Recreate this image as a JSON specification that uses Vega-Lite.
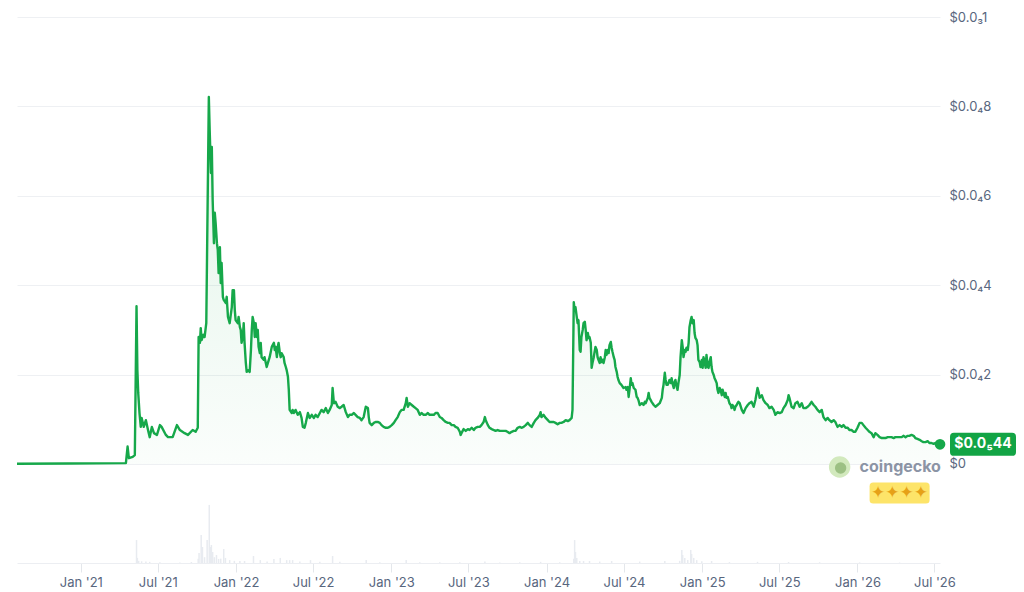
{
"$schema":"https://vega.github.io/schema/vega-lite/v6.json",
"width":923,"height":546,
"autosize":{"type":"none"},
"padding":{"left":17,"top":17,"right":84,"bottom":29},
"background":"white",
"config":{"view":{"stroke":null},"font":"Inter"},
"datasets":{
"price":[
{"date":"2020-08-04","price":0.05e-6},{"date":"2020-12-01","price":0.1e-6},{"date":"2021-04-17","price":0.2e-6},{"date":"2021-04-21","price":3.9e-6},{"date":"2021-04-24","price":1.3e-6},{"date":"2021-05-03","price":1.6e-6},{"date":"2021-05-08","price":2.0e-6},{"date":"2021-05-12","price":35.3e-6},{"date":"2021-05-14","price":21.0e-6},{"date":"2021-05-16","price":15.9e-6},{"date":"2021-05-19","price":11.4e-6},{"date":"2021-05-22","price":8.3e-6},{"date":"2021-05-24","price":10.3e-6},{"date":"2021-05-29","price":8.3e-6},{"date":"2021-06-03","price":9.8e-6},{"date":"2021-06-08","price":7.6e-6},{"date":"2021-06-12","price":6.0e-6},{"date":"2021-06-17","price":8.3e-6},{"date":"2021-06-22","price":6.9e-6},{"date":"2021-06-29","price":6.5e-6},{"date":"2021-07-06","price":8.7e-6},{"date":"2021-07-10","price":8.3e-6},{"date":"2021-07-20","price":6.5e-6},{"date":"2021-07-25","price":6.0e-6},{"date":"2021-08-05","price":6.0e-6},{"date":"2021-08-15","price":8.7e-6},{"date":"2021-08-22","price":7.6e-6},{"date":"2021-09-02","price":6.9e-6},{"date":"2021-09-10","price":6.5e-6},{"date":"2021-09-21","price":7.6e-6},{"date":"2021-09-28","price":7.2e-6},{"date":"2021-10-03","price":8.1e-6},{"date":"2021-10-05","price":28.4e-6},{"date":"2021-10-08","price":27.1e-6},{"date":"2021-10-10","price":30.4e-6},{"date":"2021-10-12","price":27.7e-6},{"date":"2021-10-16","price":28.9e-6},{"date":"2021-10-19","price":28.4e-6},{"date":"2021-10-23","price":31.5e-6},{"date":"2021-10-29","price":82.1e-6},{"date":"2021-10-31","price":74.7e-6},{"date":"2021-11-03","price":65.1e-6},{"date":"2021-11-05","price":70.9e-6},{"date":"2021-11-07","price":59.1e-6},{"date":"2021-11-10","price":49.4e-6},{"date":"2021-11-12","price":56.2e-6},{"date":"2021-11-14","price":53.9e-6},{"date":"2021-11-17","price":49.4e-6},{"date":"2021-11-19","price":47.9e-6},{"date":"2021-11-21","price":42.7e-6},{"date":"2021-11-24","price":48.5e-6},{"date":"2021-11-26","price":40.5e-6},{"date":"2021-11-28","price":45.0e-6},{"date":"2021-12-01","price":37.4e-6},{"date":"2021-12-03","price":36.7e-6},{"date":"2021-12-08","price":36.0e-6},{"date":"2021-12-10","price":37.4e-6},{"date":"2021-12-13","price":32.9e-6},{"date":"2021-12-17","price":31.5e-6},{"date":"2021-12-22","price":35.1e-6},{"date":"2021-12-24","price":38.9e-6},{"date":"2021-12-27","price":38.9e-6},{"date":"2021-12-29","price":34.5e-6},{"date":"2021-12-31","price":32.2e-6},
{"date":"2022-01-05","price":31.5e-6},{"date":"2022-01-07","price":32.9e-6},{"date":"2022-01-10","price":30.6e-6},{"date":"2022-01-12","price":30.0e-6},{"date":"2022-01-14","price":27.1e-6},{"date":"2022-01-17","price":28.4e-6},{"date":"2022-01-19","price":31.5e-6},{"date":"2022-01-21","price":27.1e-6},{"date":"2022-01-24","price":22.6e-6},{"date":"2022-01-26","price":20.6e-6},{"date":"2022-01-31","price":21.0e-6},{"date":"2022-02-02","price":20.6e-6},{"date":"2022-02-05","price":25.5e-6},{"date":"2022-02-07","price":30.0e-6},{"date":"2022-02-09","price":32.9e-6},{"date":"2022-02-12","price":31.5e-6},{"date":"2022-02-14","price":28.4e-6},{"date":"2022-02-16","price":31.5e-6},{"date":"2022-02-19","price":28.4e-6},{"date":"2022-02-21","price":30.0e-6},{"date":"2022-02-23","price":26.2e-6},{"date":"2022-02-26","price":24.8e-6},{"date":"2022-02-28","price":27.1e-6},{"date":"2022-03-02","price":23.9e-6},{"date":"2022-03-07","price":23.3e-6},{"date":"2022-03-09","price":23.9e-6},{"date":"2022-03-14","price":21.7e-6},{"date":"2022-03-19","price":23.3e-6},{"date":"2022-03-21","price":23.9e-6},{"date":"2022-03-26","price":26.2e-6},{"date":"2022-03-31","price":27.1e-6},{"date":"2022-04-02","price":25.5e-6},{"date":"2022-04-04","price":26.2e-6},{"date":"2022-04-07","price":23.9e-6},{"date":"2022-04-09","price":26.2e-6},{"date":"2022-04-11","price":27.1e-6},{"date":"2022-04-14","price":24.8e-6},{"date":"2022-04-16","price":23.9e-6},{"date":"2022-04-18","price":24.8e-6},{"date":"2022-04-23","price":23.9e-6},{"date":"2022-04-25","price":22.6e-6},{"date":"2022-04-28","price":21.7e-6},{"date":"2022-04-30","price":21.0e-6},{"date":"2022-05-03","price":19.5e-6},{"date":"2022-05-05","price":16.6e-6},{"date":"2022-05-07","price":12.1e-6},{"date":"2022-05-12","price":11.4e-6},{"date":"2022-05-14","price":12.1e-6},{"date":"2022-05-17","price":11.4e-6},{"date":"2022-05-21","price":12.1e-6},{"date":"2022-05-26","price":11.0e-6},{"date":"2022-05-31","price":11.6e-6},{"date":"2022-06-04","price":10.3e-6},{"date":"2022-06-07","price":8.3e-6},{"date":"2022-06-11","price":8.1e-6},{"date":"2022-06-14","price":9.2e-6},{"date":"2022-06-19","price":11.4e-6},{"date":"2022-06-23","price":10.3e-6},{"date":"2022-06-28","price":11.0e-6},{"date":"2022-07-03","price":10.3e-6},{"date":"2022-07-07","price":11.0e-6},{"date":"2022-07-12","price":10.5e-6},{"date":"2022-07-17","price":11.4e-6},{"date":"2022-07-21","price":12.1e-6},{"date":"2022-07-26","price":11.6e-6},{"date":"2022-07-31","price":12.5e-6},{"date":"2022-08-05","price":11.4e-6},{"date":"2022-08-09","price":12.1e-6},{"date":"2022-08-14","price":13.2e-6},{"date":"2022-08-16","price":17.0e-6},{"date":"2022-08-19","price":13.6e-6},{"date":"2022-08-23","price":13.9e-6},{"date":"2022-08-28","price":12.8e-6},{"date":"2022-09-02","price":12.5e-6},{"date":"2022-09-06","price":12.8e-6},{"date":"2022-09-11","price":13.2e-6},{"date":"2022-09-16","price":11.6e-6},{"date":"2022-09-21","price":10.5e-6},{"date":"2022-09-25","price":11.0e-6},{"date":"2022-09-30","price":11.0e-6},{"date":"2022-10-05","price":11.4e-6},{"date":"2022-10-09","price":11.0e-6},{"date":"2022-10-14","price":10.5e-6},{"date":"2022-10-19","price":10.3e-6},{"date":"2022-10-23","price":9.8e-6},{"date":"2022-10-28","price":10.5e-6},{"date":"2022-11-02","price":12.8e-6},{"date":"2022-11-07","price":12.5e-6},{"date":"2022-11-09","price":10.5e-6},{"date":"2022-11-11","price":9.2e-6},{"date":"2022-11-16","price":8.7e-6},{"date":"2022-11-21","price":9.2e-6},{"date":"2022-11-25","price":9.4e-6},{"date":"2022-11-30","price":9.4e-6},{"date":"2022-12-05","price":9.2e-6},{"date":"2022-12-09","price":8.7e-6},{"date":"2022-12-14","price":8.3e-6},{"date":"2022-12-19","price":8.1e-6},{"date":"2022-12-24","price":8.1e-6},{"date":"2022-12-28","price":8.3e-6},
{"date":"2023-01-02","price":8.7e-6},{"date":"2023-01-07","price":9.2e-6},{"date":"2023-01-11","price":9.8e-6},{"date":"2023-01-16","price":10.5e-6},{"date":"2023-01-21","price":11.6e-6},{"date":"2023-01-25","price":12.1e-6},{"date":"2023-01-30","price":12.1e-6},{"date":"2023-02-04","price":13.6e-6},{"date":"2023-02-06","price":14.8e-6},{"date":"2023-02-09","price":12.8e-6},{"date":"2023-02-13","price":13.6e-6},{"date":"2023-02-18","price":13.2e-6},{"date":"2023-02-23","price":12.8e-6},{"date":"2023-02-27","price":12.5e-6},{"date":"2023-03-04","price":12.1e-6},{"date":"2023-03-09","price":11.0e-6},{"date":"2023-03-13","price":11.4e-6},{"date":"2023-03-18","price":11.0e-6},{"date":"2023-03-23","price":11.0e-6},{"date":"2023-03-28","price":11.4e-6},{"date":"2023-04-01","price":11.0e-6},{"date":"2023-04-06","price":11.0e-6},{"date":"2023-04-11","price":11.0e-6},{"date":"2023-04-15","price":11.4e-6},{"date":"2023-04-20","price":11.4e-6},{"date":"2023-04-25","price":10.5e-6},{"date":"2023-04-29","price":10.3e-6},{"date":"2023-05-04","price":9.8e-6},{"date":"2023-05-09","price":9.4e-6},{"date":"2023-05-14","price":9.2e-6},{"date":"2023-05-18","price":9.2e-6},{"date":"2023-05-23","price":8.7e-6},{"date":"2023-05-28","price":8.7e-6},{"date":"2023-06-01","price":8.3e-6},{"date":"2023-06-06","price":8.1e-6},{"date":"2023-06-11","price":7.2e-6},{"date":"2023-06-13","price":6.5e-6},{"date":"2023-06-15","price":6.9e-6},{"date":"2023-06-20","price":7.8e-6},{"date":"2023-06-25","price":7.4e-6},{"date":"2023-06-30","price":7.8e-6},{"date":"2023-07-04","price":7.6e-6},{"date":"2023-07-09","price":8.1e-6},{"date":"2023-07-14","price":7.6e-6},{"date":"2023-07-18","price":8.1e-6},{"date":"2023-07-23","price":8.3e-6},{"date":"2023-07-28","price":8.3e-6},{"date":"2023-08-01","price":8.7e-6},{"date":"2023-08-06","price":9.4e-6},{"date":"2023-08-09","price":10.5e-6},{"date":"2023-08-11","price":9.8e-6},{"date":"2023-08-16","price":8.7e-6},{"date":"2023-08-20","price":8.1e-6},{"date":"2023-08-25","price":7.8e-6},{"date":"2023-08-30","price":7.6e-6},{"date":"2023-09-03","price":7.4e-6},{"date":"2023-09-08","price":7.6e-6},{"date":"2023-09-13","price":7.4e-6},{"date":"2023-09-17","price":7.4e-6},{"date":"2023-09-22","price":7.4e-6},{"date":"2023-09-27","price":7.4e-6},{"date":"2023-10-01","price":7.2e-6},{"date":"2023-10-06","price":6.9e-6},{"date":"2023-10-11","price":7.2e-6},{"date":"2023-10-16","price":7.4e-6},{"date":"2023-10-20","price":7.4e-6},{"date":"2023-10-25","price":8.1e-6},{"date":"2023-10-30","price":8.3e-6},{"date":"2023-11-03","price":8.1e-6},{"date":"2023-11-08","price":8.3e-6},{"date":"2023-11-13","price":8.7e-6},{"date":"2023-11-18","price":9.2e-6},{"date":"2023-11-22","price":8.7e-6},{"date":"2023-11-27","price":8.3e-6},{"date":"2023-12-02","price":9.2e-6},{"date":"2023-12-06","price":9.8e-6},{"date":"2023-12-11","price":10.3e-6},{"date":"2023-12-16","price":11.0e-6},{"date":"2023-12-18","price":11.6e-6},{"date":"2023-12-20","price":10.5e-6},{"date":"2023-12-25","price":11.0e-6},{"date":"2023-12-30","price":10.3e-6},
{"date":"2024-01-04","price":9.8e-6},{"date":"2024-01-08","price":9.4e-6},{"date":"2024-01-13","price":9.4e-6},{"date":"2024-01-18","price":9.4e-6},{"date":"2024-01-22","price":9.2e-6},{"date":"2024-01-27","price":8.9e-6},{"date":"2024-02-01","price":9.2e-6},{"date":"2024-02-05","price":9.2e-6},{"date":"2024-02-10","price":9.4e-6},{"date":"2024-02-15","price":9.8e-6},{"date":"2024-02-20","price":9.6e-6},{"date":"2024-02-24","price":9.8e-6},{"date":"2024-02-29","price":10.3e-6},{"date":"2024-03-02","price":12.1e-6},{"date":"2024-03-05","price":36.2e-6},{"date":"2024-03-07","price":34.5e-6},{"date":"2024-03-09","price":35.1e-6},{"date":"2024-03-12","price":32.9e-6},{"date":"2024-03-14","price":31.5e-6},{"date":"2024-03-16","price":32.2e-6},{"date":"2024-03-19","price":25.5e-6},{"date":"2024-03-21","price":25.1e-6},{"date":"2024-03-23","price":28.4e-6},{"date":"2024-03-26","price":30.0e-6},{"date":"2024-03-28","price":31.5e-6},{"date":"2024-03-31","price":31.8e-6},{"date":"2024-04-02","price":30.0e-6},{"date":"2024-04-04","price":27.7e-6},{"date":"2024-04-07","price":29.3e-6},{"date":"2024-04-09","price":28.2e-6},{"date":"2024-04-11","price":28.4e-6},{"date":"2024-04-14","price":27.1e-6},{"date":"2024-04-16","price":21.5e-6},{"date":"2024-04-18","price":22.6e-6},{"date":"2024-04-21","price":23.9e-6},{"date":"2024-04-23","price":25.1e-6},{"date":"2024-04-25","price":26.2e-6},{"date":"2024-04-28","price":25.5e-6},{"date":"2024-04-30","price":23.9e-6},{"date":"2024-05-02","price":23.3e-6},{"date":"2024-05-05","price":22.6e-6},{"date":"2024-05-07","price":23.9e-6},{"date":"2024-05-09","price":22.8e-6},{"date":"2024-05-12","price":23.3e-6},{"date":"2024-05-14","price":22.6e-6},{"date":"2024-05-17","price":23.9e-6},{"date":"2024-05-19","price":25.5e-6},{"date":"2024-05-21","price":24.4e-6},{"date":"2024-05-24","price":25.5e-6},{"date":"2024-05-26","price":24.8e-6},{"date":"2024-05-28","price":26.6e-6},{"date":"2024-05-31","price":27.3e-6},{"date":"2024-06-02","price":26.0e-6},{"date":"2024-06-04","price":25.1e-6},{"date":"2024-06-07","price":23.9e-6},{"date":"2024-06-09","price":23.3e-6},{"date":"2024-06-11","price":21.7e-6},{"date":"2024-06-14","price":20.6e-6},{"date":"2024-06-16","price":19.5e-6},{"date":"2024-06-18","price":18.8e-6},{"date":"2024-06-21","price":18.1e-6},{"date":"2024-06-25","price":17.7e-6},{"date":"2024-06-30","price":17.0e-6},{"date":"2024-07-05","price":17.2e-6},{"date":"2024-07-07","price":16.6e-6},{"date":"2024-07-10","price":17.2e-6},{"date":"2024-07-12","price":15.0e-6},{"date":"2024-07-14","price":16.6e-6},{"date":"2024-07-17","price":19.2e-6},{"date":"2024-07-19","price":17.7e-6},{"date":"2024-07-21","price":18.1e-6},{"date":"2024-07-24","price":17.0e-6},{"date":"2024-07-28","price":16.6e-6},{"date":"2024-07-31","price":15.0e-6},{"date":"2024-08-02","price":14.8e-6},{"date":"2024-08-04","price":14.3e-6},{"date":"2024-08-07","price":13.2e-6},{"date":"2024-08-12","price":13.6e-6},{"date":"2024-08-16","price":13.2e-6},{"date":"2024-08-19","price":13.9e-6},{"date":"2024-08-21","price":13.6e-6},{"date":"2024-08-26","price":14.8e-6},{"date":"2024-08-28","price":15.9e-6},{"date":"2024-08-30","price":14.8e-6},{"date":"2024-09-04","price":13.9e-6},{"date":"2024-09-09","price":13.2e-6},{"date":"2024-09-13","price":12.8e-6},{"date":"2024-09-18","price":13.2e-6},{"date":"2024-09-23","price":13.6e-6},{"date":"2024-09-28","price":14.8e-6},{"date":"2024-09-30","price":16.6e-6},{"date":"2024-10-02","price":17.7e-6},{"date":"2024-10-05","price":20.4e-6},{"date":"2024-10-07","price":18.8e-6},{"date":"2024-10-09","price":17.7e-6},{"date":"2024-10-12","price":17.7e-6},{"date":"2024-10-16","price":18.8e-6},{"date":"2024-10-19","price":18.1e-6},{"date":"2024-10-21","price":19.2e-6},{"date":"2024-10-23","price":18.1e-6},{"date":"2024-10-26","price":17.0e-6},{"date":"2024-10-28","price":18.3e-6},{"date":"2024-10-30","price":18.8e-6},{"date":"2024-11-02","price":17.2e-6},{"date":"2024-11-04","price":16.6e-6},{"date":"2024-11-06","price":18.1e-6},{"date":"2024-11-09","price":19.9e-6},{"date":"2024-11-11","price":23.9e-6},{"date":"2024-11-14","price":27.7e-6},{"date":"2024-11-16","price":26.2e-6},{"date":"2024-11-18","price":23.9e-6},{"date":"2024-11-21","price":25.5e-6},{"date":"2024-11-23","price":25.1e-6},{"date":"2024-11-25","price":26.0e-6},{"date":"2024-11-28","price":25.5e-6},{"date":"2024-11-30","price":27.1e-6},{"date":"2024-12-02","price":30.6e-6},{"date":"2024-12-05","price":32.2e-6},{"date":"2024-12-07","price":32.9e-6},{"date":"2024-12-09","price":31.5e-6},{"date":"2024-12-12","price":32.2e-6},{"date":"2024-12-14","price":29.3e-6},{"date":"2024-12-16","price":28.2e-6},{"date":"2024-12-19","price":27.7e-6},{"date":"2024-12-21","price":26.6e-6},{"date":"2024-12-23","price":23.3e-6},{"date":"2024-12-26","price":22.8e-6},{"date":"2024-12-28","price":21.7e-6},{"date":"2024-12-31","price":23.3e-6},
{"date":"2025-01-02","price":21.5e-6},{"date":"2025-01-04","price":23.9e-6},{"date":"2025-01-07","price":22.6e-6},{"date":"2025-01-09","price":21.5e-6},{"date":"2025-01-11","price":24.4e-6},{"date":"2025-01-14","price":21.7e-6},{"date":"2025-01-16","price":21.5e-6},{"date":"2025-01-18","price":22.8e-6},{"date":"2025-01-21","price":23.9e-6},{"date":"2025-01-23","price":21.7e-6},{"date":"2025-01-25","price":20.6e-6},{"date":"2025-01-28","price":19.9e-6},{"date":"2025-01-30","price":19.2e-6},{"date":"2025-02-01","price":18.8e-6},{"date":"2025-02-04","price":18.1e-6},{"date":"2025-02-06","price":16.6e-6},{"date":"2025-02-08","price":15.9e-6},{"date":"2025-02-11","price":17.0e-6},{"date":"2025-02-13","price":16.6e-6},{"date":"2025-02-16","price":15.4e-6},{"date":"2025-02-18","price":16.6e-6},{"date":"2025-02-20","price":15.9e-6},{"date":"2025-02-23","price":15.0e-6},{"date":"2025-02-25","price":15.9e-6},{"date":"2025-02-27","price":14.8e-6},{"date":"2025-03-02","price":15.0e-6},{"date":"2025-03-04","price":14.3e-6},{"date":"2025-03-06","price":13.6e-6},{"date":"2025-03-09","price":13.2e-6},{"date":"2025-03-11","price":12.5e-6},{"date":"2025-03-13","price":13.2e-6},{"date":"2025-03-16","price":12.8e-6},{"date":"2025-03-18","price":12.1e-6},{"date":"2025-03-20","price":12.8e-6},{"date":"2025-03-23","price":13.2e-6},{"date":"2025-03-25","price":13.6e-6},{"date":"2025-03-27","price":13.9e-6},{"date":"2025-03-30","price":13.6e-6},{"date":"2025-04-04","price":12.1e-6},{"date":"2025-04-08","price":11.4e-6},{"date":"2025-04-13","price":12.5e-6},{"date":"2025-04-18","price":13.2e-6},{"date":"2025-04-22","price":13.6e-6},{"date":"2025-04-27","price":13.9e-6},{"date":"2025-05-02","price":12.8e-6},{"date":"2025-05-06","price":14.3e-6},{"date":"2025-05-11","price":17.0e-6},{"date":"2025-05-14","price":15.9e-6},{"date":"2025-05-16","price":14.8e-6},{"date":"2025-05-21","price":15.4e-6},{"date":"2025-05-25","price":14.3e-6},{"date":"2025-05-30","price":13.6e-6},{"date":"2025-06-04","price":13.2e-6},{"date":"2025-06-08","price":12.5e-6},{"date":"2025-06-13","price":12.8e-6},{"date":"2025-06-18","price":12.1e-6},{"date":"2025-06-22","price":11.0e-6},{"date":"2025-06-27","price":11.6e-6},{"date":"2025-07-02","price":11.4e-6},{"date":"2025-07-07","price":11.6e-6},{"date":"2025-07-11","price":12.5e-6},{"date":"2025-07-16","price":13.2e-6},{"date":"2025-07-21","price":14.3e-6},{"date":"2025-07-23","price":15.4e-6},{"date":"2025-07-25","price":14.8e-6},{"date":"2025-07-30","price":12.8e-6},{"date":"2025-08-04","price":12.5e-6},{"date":"2025-08-08","price":13.6e-6},{"date":"2025-08-13","price":13.9e-6},{"date":"2025-08-18","price":12.8e-6},{"date":"2025-08-23","price":13.6e-6},{"date":"2025-08-27","price":12.5e-6},{"date":"2025-09-01","price":12.5e-6},{"date":"2025-09-06","price":12.8e-6},{"date":"2025-09-10","price":13.2e-6},{"date":"2025-09-15","price":13.9e-6},{"date":"2025-09-20","price":13.2e-6},{"date":"2025-09-24","price":12.8e-6},{"date":"2025-09-29","price":12.1e-6},{"date":"2025-10-04","price":11.6e-6},{"date":"2025-10-09","price":12.1e-6},{"date":"2025-10-13","price":10.5e-6},{"date":"2025-10-18","price":9.8e-6},{"date":"2025-10-23","price":10.3e-6},{"date":"2025-10-27","price":9.8e-6},{"date":"2025-11-01","price":9.4e-6},{"date":"2025-11-06","price":9.8e-6},{"date":"2025-11-10","price":9.4e-6},{"date":"2025-11-15","price":8.3e-6},{"date":"2025-11-20","price":8.7e-6},{"date":"2025-11-25","price":8.3e-6},{"date":"2025-11-29","price":8.7e-6},{"date":"2025-12-04","price":8.1e-6},{"date":"2025-12-09","price":8.1e-6},{"date":"2025-12-13","price":7.6e-6},{"date":"2025-12-18","price":7.6e-6},{"date":"2025-12-23","price":7.2e-6},{"date":"2025-12-27","price":7.2e-6},
{"date":"2026-01-01","price":8.1e-6},{"date":"2026-01-06","price":9.2e-6},{"date":"2026-01-11","price":9.2e-6},{"date":"2026-01-15","price":8.7e-6},{"date":"2026-01-20","price":8.1e-6},{"date":"2026-01-25","price":7.6e-6},{"date":"2026-01-29","price":7.2e-6},{"date":"2026-02-03","price":6.9e-6},{"date":"2026-02-08","price":6.0e-6},{"date":"2026-02-12","price":6.9e-6},{"date":"2026-02-17","price":6.5e-6},{"date":"2026-02-22","price":6.0e-6},{"date":"2026-02-27","price":5.8e-6},{"date":"2026-03-03","price":5.8e-6},{"date":"2026-03-08","price":5.8e-6},{"date":"2026-03-13","price":6.0e-6},{"date":"2026-03-17","price":6.0e-6},{"date":"2026-03-22","price":6.0e-6},{"date":"2026-03-27","price":5.8e-6},{"date":"2026-03-31","price":6.0e-6},{"date":"2026-04-05","price":6.0e-6},{"date":"2026-04-10","price":6.0e-6},{"date":"2026-04-15","price":6.0e-6},{"date":"2026-04-19","price":6.3e-6},{"date":"2026-04-24","price":6.0e-6},{"date":"2026-04-29","price":6.3e-6},{"date":"2026-05-03","price":6.3e-6},{"date":"2026-05-08","price":6.5e-6},{"date":"2026-05-13","price":6.3e-6},{"date":"2026-05-17","price":5.8e-6},{"date":"2026-05-22","price":5.6e-6},{"date":"2026-05-27","price":5.4e-6},{"date":"2026-06-01","price":5.1e-6},{"date":"2026-06-05","price":4.9e-6},{"date":"2026-06-10","price":4.9e-6},{"date":"2026-06-15","price":5.1e-6},{"date":"2026-06-19","price":4.7e-6},{"date":"2026-06-24","price":4.7e-6},{"date":"2026-06-29","price":4.5e-6},{"date":"2026-07-03","price":4.7e-6},{"date":"2026-07-08","price":4.5e-6},{"date":"2026-07-14","price":4.4e-6}
],
"last":[{"date":"2026-07-14","price":4.4e-6,"label":"$0.0₅44"}],
"volume":[
{"date":"2021-05-12","vol":15.8},{"date":"2021-05-14","vol":3.5},{"date":"2021-05-17","vol":1.5},{"date":"2021-05-24","vol":1.2},{"date":"2021-06-03","vol":1.0},{"date":"2021-06-12","vol":0.8},{"date":"2021-07-06","vol":0.5},{"date":"2021-08-22","vol":0.4},{"date":"2021-09-18","vol":0.7},{"date":"2021-10-04","vol":3.0},{"date":"2021-10-06","vol":6.9},{"date":"2021-10-11","vol":19.3},{"date":"2021-10-14","vol":11},{"date":"2021-10-19","vol":4},{"date":"2021-10-25","vol":15.8},{"date":"2021-10-30","vol":40},{"date":"2021-11-02","vol":11},{"date":"2021-11-04","vol":12.4},{"date":"2021-11-07","vol":7.6},{"date":"2021-11-11","vol":4},{"date":"2021-11-16","vol":5.5},{"date":"2021-11-21","vol":2.8},{"date":"2021-11-26","vol":3},{"date":"2021-12-03","vol":9.6},{"date":"2021-12-07","vol":3.5},{"date":"2021-12-17","vol":2},{"date":"2021-12-28","vol":1.5},{"date":"2022-01-10","vol":1.4},{"date":"2022-01-21","vol":1.4},{"date":"2022-02-11","vol":4.8},{"date":"2022-02-27","vol":2},{"date":"2022-03-15","vol":1},{"date":"2022-03-31","vol":2.8},{"date":"2022-04-15","vol":3.5},{"date":"2022-04-30","vol":2},{"date":"2022-05-07","vol":2},{"date":"2022-05-14","vol":2},{"date":"2022-05-31","vol":1},{"date":"2022-06-25","vol":2},{"date":"2022-07-17","vol":0.8},{"date":"2022-08-16","vol":4.8},{"date":"2022-09-02","vol":0.8},{"date":"2022-11-03","vol":2},{"date":"2022-12-05","vol":0.6},{"date":"2023-02-05","vol":2},{"date":"2023-03-09","vol":0.6},{"date":"2023-04-25","vol":0.5},{"date":"2023-06-11","vol":0.5},{"date":"2023-08-09","vol":1},{"date":"2023-09-13","vol":0.4},{"date":"2023-10-30","vol":0.5},{"date":"2023-12-18","vol":0.8},{"date":"2024-02-01","vol":0.5},{"date":"2024-03-05","vol":3},{"date":"2024-03-07","vol":15.8},{"date":"2024-03-09","vol":7.6},{"date":"2024-03-12","vol":3.5},{"date":"2024-03-19","vol":1.4},{"date":"2024-03-28","vol":1.4},{"date":"2024-04-11","vol":1.4},{"date":"2024-05-05","vol":1},{"date":"2024-06-02","vol":1.4},{"date":"2024-08-07","vol":1},{"date":"2024-10-05","vol":1.4},{"date":"2024-11-09","vol":1.5},{"date":"2024-11-14","vol":9},{"date":"2024-11-16","vol":5.5},{"date":"2024-11-21","vol":3.5},{"date":"2024-11-28","vol":2},{"date":"2024-12-05","vol":9},{"date":"2024-12-07","vol":6.2},{"date":"2024-12-12","vol":3.5},{"date":"2024-12-19","vol":2},{"date":"2024-12-31","vol":1.2},{"date":"2025-01-23","vol":1.4},{"date":"2025-03-06","vol":0.6},{"date":"2025-05-11","vol":0.8},{"date":"2025-07-23","vol":0.7},{"date":"2025-10-04","vol":0.5},{"date":"2026-01-06","vol":0.4},{"date":"2026-04-10","vol":0.3}
]
},
"layer":[
{"data":{"name":"volume"},
 "mark":{"type":"rule","strokeWidth":1.5,"color":"#e8ebf0"},
 "encoding":{
  "x":{"field":"date","type":"temporal","title":null,
   "scale":{"type":"utc","domain":[{"year":2020,"month":8,"date":4,"utc":true},{"year":2026,"month":7,"date":14,"utc":true}]},
   "axis":{"format":"%b '%y","labelFlush":false,"labelOverlap":false,"grid":false,
     "values":[{"year":2021,"month":1,"date":1,"utc":true},{"year":2021,"month":7,"date":1,"utc":true},{"year":2022,"month":1,"date":1,"utc":true},{"year":2022,"month":7,"date":1,"utc":true},{"year":2023,"month":1,"date":1,"utc":true},{"year":2023,"month":7,"date":1,"utc":true},{"year":2024,"month":1,"date":1,"utc":true},{"year":2024,"month":7,"date":1,"utc":true},{"year":2025,"month":1,"date":1,"utc":true},{"year":2025,"month":7,"date":1,"utc":true},{"year":2026,"month":1,"date":1,"utc":true},{"year":2026,"month":7,"date":1,"utc":true}],
     "domainColor":"#eceef2","tickColor":"#e4e7eb","tickSize":9,"labelPadding":4,"labelColor":"#58667e","labelFontSize":13,"labelFont":"Inter"}},
  "y":{"field":"vol","type":"quantitative","scale":{"domain":[0,376]},"axis":null,"title":null},
  "y2":{"datum":0}
 }},
{"layer":[
 {"data":{"name":"price"},
  "mark":{"type":"area","line":false,"color":{"gradient":"linear","x1":0,"y1":0,"x2":0,"y2":1,"stops":[{"offset":0,"color":"rgba(22,168,74,0.13)"},{"offset":1,"color":"rgba(22,168,74,0.02)"}]}},
  "encoding":{
   "x":{"field":"date","type":"temporal","title":null,"scale":{"type":"utc"}},
   "y":{"field":"price","type":"quantitative","title":null,
    "scale":{"domain":[-0.00002215,0.0001],"nice":false,"zero":false},
    "axis":{"orient":"right","values":[0,0.00002,0.00004,0.00006,0.00008,0.0001],
     "labelExpr":"datum.value <= 0 ? '$0' : (datum.value >= 0.0000999 ? '$0.0₃1' : '$0.0₄' + format(datum.value*100000, '.0f'))",
     "domain":false,"ticks":false,"grid":true,"gridColor":"#eef0f3","gridWidth":1,
     "labelColor":"#58667e","labelFontSize":13,"labelFont":"Inter","labelPadding":9,"labelFlush":false}},
   "y2":{"datum":0}
  }},
 {"data":{"name":"price"},
  "mark":{"type":"line","color":"#16a84a","strokeWidth":2.4,"strokeJoin":"round"},
  "encoding":{
   "x":{"field":"date","type":"temporal","title":null,"scale":{"type":"utc"}},
   "y":{"field":"price","type":"quantitative","title":null}
  }},
 {"data":{"name":"last"},
  "mark":{"type":"point","filled":true,"size":115,"color":"#16a84a","opacity":1},
  "encoding":{
   "x":{"field":"date","type":"temporal","title":null,"scale":{"type":"utc"}},
   "y":{"field":"price","type":"quantitative","title":null}
  }},
 {"data":{"name":"last"},
  "mark":{"type":"point","filled":true,"opacity":1,"color":"#12a445","size":4356,"xOffset":43,
   "shape":"M-0.88,-0.35 L0.88,-0.35 Q1,-0.35 1,-0.23 L1,0.23 Q1,0.35 0.88,0.35 L-0.88,0.35 Q-1,0.35 -1,0.23 L-1,-0.23 Q-1,-0.35 -0.88,-0.35 Z"},
  "encoding":{
   "x":{"field":"date","type":"temporal","title":null,"scale":{"type":"utc"}},
   "y":{"field":"price","type":"quantitative","title":null}
  }},
 {"data":{"name":"last"},
  "mark":{"type":"text","color":"white","fontWeight":"bold","fontSize":14,"font":"Inter","xOffset":43,"align":"center","baseline":"middle"},
  "encoding":{
   "x":{"field":"date","type":"temporal","title":null,"scale":{"type":"utc"}},
   "y":{"field":"price","type":"quantitative","title":null},
   "text":{"field":"label"}
  }},
 {"data":{"values":[{}]},
  "mark":{"type":"point","filled":true,"opacity":1,"color":"#d2e9bd","size":460,"shape":"circle"},
  "encoding":{
   "x":{"datum":{"year":2025,"month":11,"date":20,"utc":true},"type":"temporal"},
   "y":{"datum":-6.7e-7,"type":"quantitative"}
  }},
 {"data":{"values":[{}]},
  "mark":{"type":"point","filled":true,"opacity":1,"color":"#9cc083","size":130,"shape":"circle","xOffset":1,"yOffset":1},
  "encoding":{
   "x":{"datum":{"year":2025,"month":11,"date":20,"utc":true},"type":"temporal"},
   "y":{"datum":-6.7e-7,"type":"quantitative"}
  }},
 {"data":{"values":[{}]},
  "mark":{"type":"text","text":"coingecko","color":"#8b94a5","fontWeight":"bold","fontSize":16,"font":"Inter","align":"left","baseline":"middle"},
  "encoding":{
   "x":{"datum":{"year":2026,"month":1,"date":6,"utc":true},"type":"temporal"},
   "y":{"datum":-6.7e-7,"type":"quantitative"}
  }},
 {"data":{"values":[{}]},
  "mark":{"type":"point","filled":true,"opacity":1,"color":"#fde469","size":3600,
   "shape":"M-0.88,-0.35 L0.88,-0.35 Q1,-0.35 1,-0.23 L1,0.23 Q1,0.35 0.88,0.35 L-0.88,0.35 Q-1,0.35 -1,0.23 L-1,-0.23 Q-1,-0.35 -0.88,-0.35 Z"},
  "encoding":{
   "x":{"datum":{"year":2026,"month":4,"date":10,"utc":true},"type":"temporal"},
   "y":{"datum":-6.5e-6,"type":"quantitative"}
  }},
 {"data":{"values":[{}]},
  "mark":{"type":"text","text":"✦✦✦✦","color":"#e6a117","fontSize":17,"font":"DejaVu Sans","align":"center","baseline":"middle"},
  "encoding":{
   "x":{"datum":{"year":2026,"month":4,"date":10,"utc":true},"type":"temporal"},
   "y":{"datum":-6.5e-6,"type":"quantitative"}
  }}
 ]}
],
"resolve":{"scale":{"y":"independent"}}
}
